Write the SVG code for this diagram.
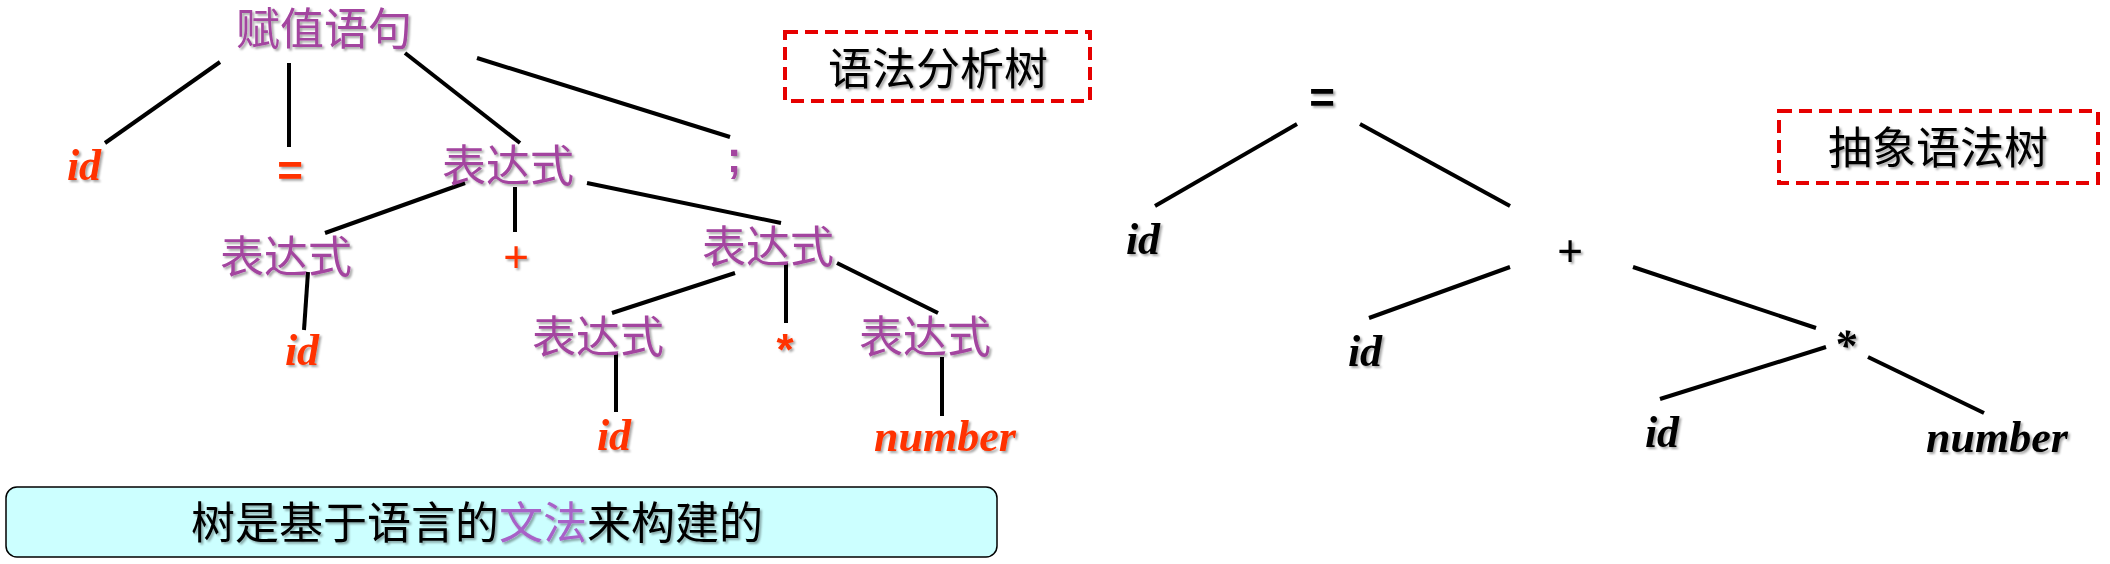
<svg xmlns="http://www.w3.org/2000/svg" width="2110" height="564" viewBox="0 0 2110 564">
<defs>
<filter id="sh" x="-20%" y="-20%" width="140%" height="150%">
<feDropShadow dx="2" dy="2" stdDeviation="1.2" flood-color="#000" flood-opacity="0.35"/>
</filter>
<style>
.cjk{font-family:"Noto Sans CJK SC","Noto Sans",sans-serif;font-size:44px;text-anchor:middle;filter:url(#sh)}
.p{fill:#A3449F}
.lat{font-family:"Liberation Serif","Times New Roman",serif;font-size:44px;font-weight:bold;font-style:italic;text-anchor:middle;filter:url(#sh)}
.sym{font-family:"Liberation Sans",Arial,sans-serif;font-size:44px;text-anchor:middle;filter:url(#sh)}
.red{fill:#FF3300}
.blk{fill:#000}
.ln{stroke:#000;stroke-width:4;fill:none}
.dash{fill:none;stroke:#E60000;stroke-width:4;stroke-dasharray:13 7}
</style>
</defs>
<rect width="2110" height="564" fill="#fff"/>

<g id="connectors" class="ln">
<line x1="220" y1="62" x2="105" y2="143"/>
<line x1="289" y1="63" x2="289" y2="147"/>
<line x1="405" y1="53" x2="520" y2="143"/>
<line x1="477" y1="58" x2="730" y2="137"/>
<line x1="465" y1="183" x2="325" y2="233"/>
<line x1="515" y1="187" x2="515" y2="232"/>
<line x1="587" y1="183" x2="781" y2="223"/>
<line x1="308" y1="272" x2="304" y2="330"/>
<line x1="735" y1="273" x2="612" y2="313"/>
<line x1="786" y1="263" x2="786" y2="323"/>
<line x1="837" y1="263" x2="938" y2="313"/>
<line x1="616" y1="353" x2="616" y2="412"/>
<line x1="942" y1="357" x2="942" y2="416"/>
<line x1="1297" y1="124" x2="1155" y2="206"/>
<line x1="1360" y1="124" x2="1510" y2="206"/>
<line x1="1510" y1="267" x2="1369" y2="318"/>
<line x1="1633" y1="267" x2="1816" y2="328"/>
<line x1="1826" y1="347" x2="1660" y2="399"/>
<line x1="1868" y1="357" x2="1984" y2="413"/>
</g>

<!-- parse tree -->
<g id="n-assign"><text class="cjk p" x="324" y="45">赋值语句</text></g>
<g id="n-id1"><text class="lat red" x="84" y="180">id</text></g>
<g id="n-eq1"><text class="sym red" x="290" y="186" font-weight="bold">=</text></g>
<g id="n-expr1"><text class="cjk p" x="508" y="182">表达式</text></g>
<g id="n-semi"><text class="sym p" x="734" y="172" font-weight="bold" font-size="42">;</text></g>
<g id="n-expr2"><text class="cjk p" x="286" y="273">表达式</text></g>
<g id="n-plus1"><text class="sym red" x="516" y="272" font-size="46">+</text></g>
<g id="n-expr3"><text class="cjk p" x="768" y="263">表达式</text></g>
<g id="n-id2"><text class="lat red" x="302" y="365">id</text></g>
<g id="n-expr4"><text class="cjk p" x="598" y="353">表达式</text></g>
<g id="n-star1"><text class="sym red" x="785" y="365" font-weight="bold">*</text></g>
<g id="n-expr5"><text class="cjk p" x="925" y="353">表达式</text></g>
<g id="n-id3"><text class="lat red" x="614" y="450">id</text></g>
<g id="n-num1"><text class="lat red" x="945" y="451">number</text></g>

<g id="label-parse">
<rect class="dash" x="785" y="32" width="305" height="69"/>
<text class="cjk blk" x="938" y="85" font-size="46">语法分析树</text>
</g>

<!-- abstract syntax tree -->
<g id="a-eq"><text class="sym blk" x="1322" y="113" font-weight="bold">=</text></g>
<g id="a-id1"><text class="lat blk" x="1143" y="254">id</text></g>
<g id="a-plus"><text class="sym blk" x="1570" y="266" font-size="46">+</text></g>
<g id="a-id2"><text class="lat blk" x="1365" y="366">id</text></g>
<g id="a-star"><text class="lat blk" x="1845" y="360" font-style="normal">*</text></g>
<g id="a-id3"><text class="lat blk" x="1662" y="447">id</text></g>
<g id="a-num"><text class="lat blk" x="1997" y="452">number</text></g>

<g id="label-ast">
<rect class="dash" x="1779" y="111" width="319" height="72"/>
<text class="cjk blk" x="1938" y="164" font-size="46">抽象语法树</text>
</g>

<g id="note">
<rect x="6" y="487" width="991" height="70" rx="11" ry="11" fill="#CCFFFF" stroke="#000" stroke-width="1.5"/>
<text class="cjk blk" x="477" y="539" font-size="46">树是基于语言的<tspan fill="#A862C8">文法</tspan>来构建的</text>
</g>
</svg>
